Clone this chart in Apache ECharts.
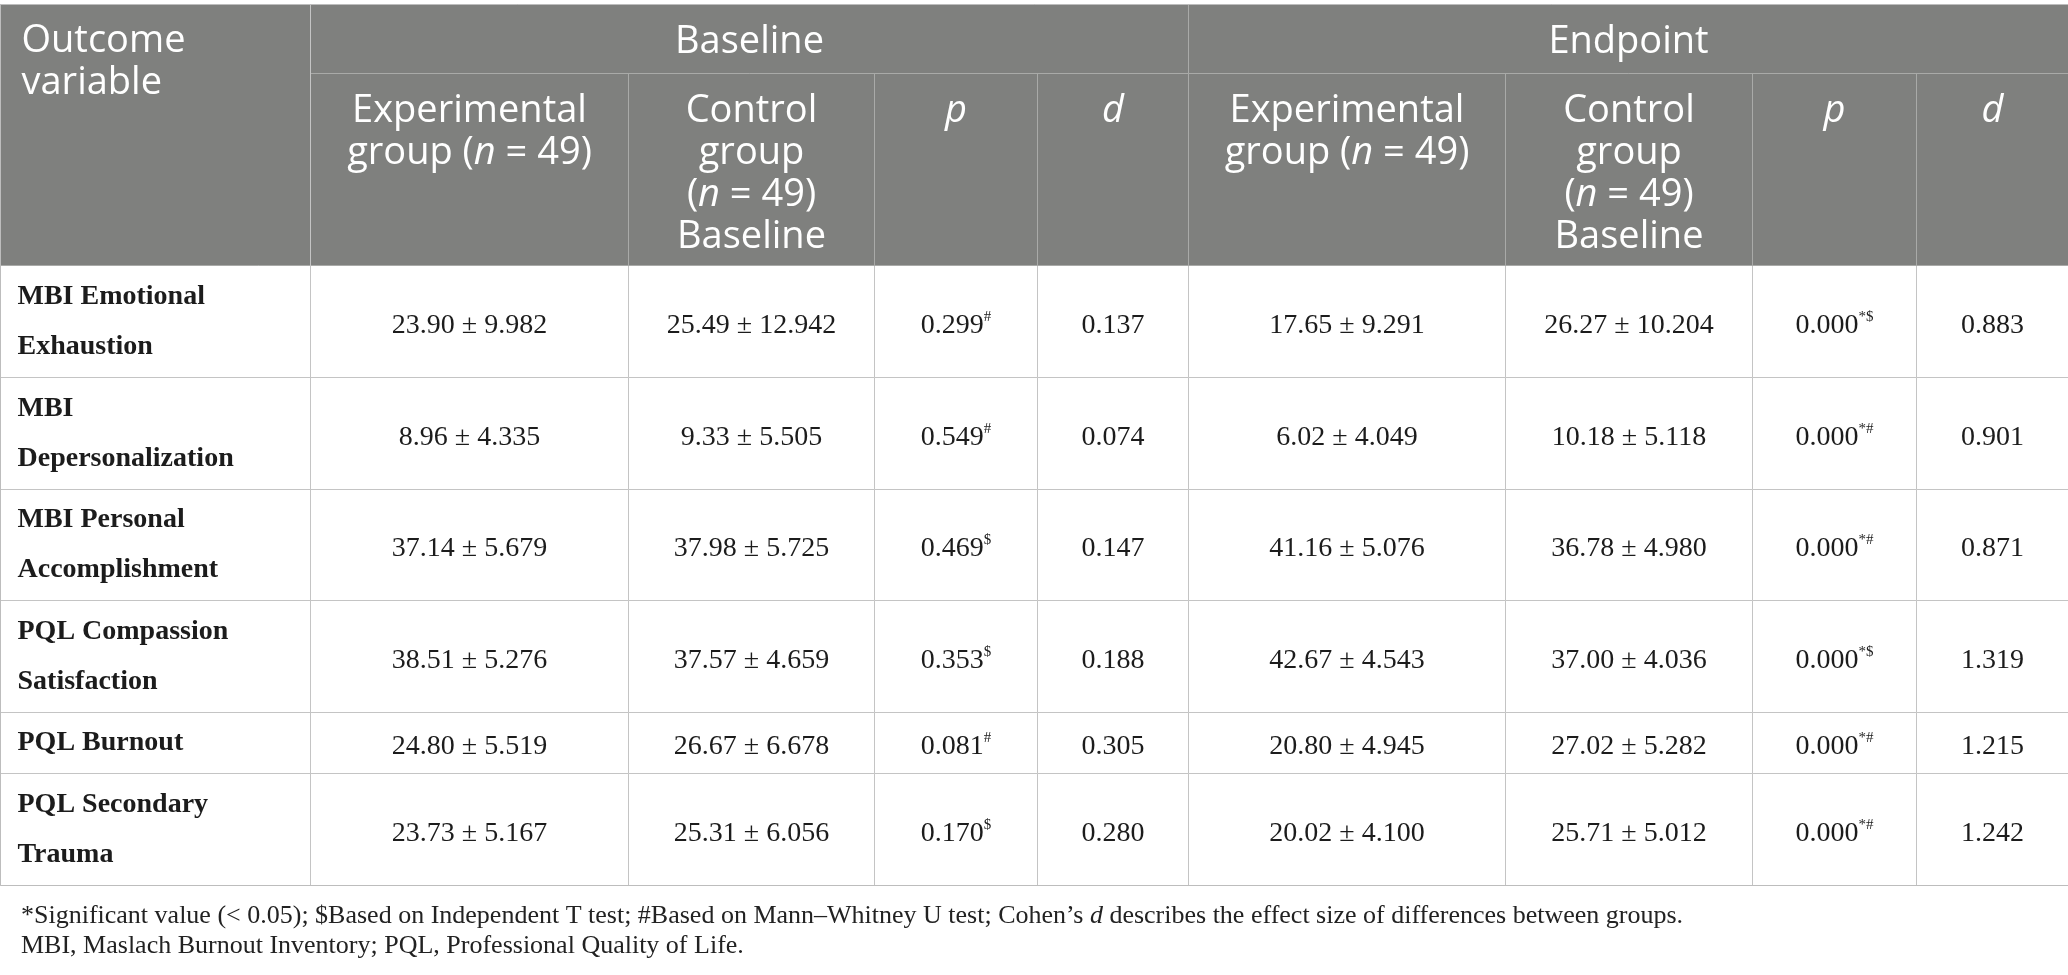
<!DOCTYPE html>
<html>
<head>
<meta charset="utf-8">
<script src="https://cdn.jsdelivr.net/npm/echarts@6/dist/echarts.min.js"></script>
<style>
html, body { margin: 0; padding: 0; background: #fff; }
#main { width: 2068px; height: 975px; }
</style>
</head>
<body>
<div id="main"></div>
<script>
// outcome rows
var outcomes = ['MBI Emotional\nExhaustion', 'MBI\nDepersonalization', 'MBI Personal\nAccomplishment',
  'PQL Compassion\nSatisfaction', 'PQL Burnout', 'PQL Secondary\nTrauma'];
var phases = ['Baseline', 'Endpoint'];
var subHeads = ['Experimental\ngroup ({it|n} = 49)', 'Control\ngroup\n({it|n} = 49)\nBaseline', '{it|p}', '{it|d}'];

// baseline
var baseExpMean = [23.90, 8.96, 37.14, 38.51, 24.80, 23.73];
var baseExpSd = [9.982, 4.335, 5.679, 5.276, 5.519, 5.167];
var baseCtlMean = [25.49, 9.33, 37.98, 37.57, 26.67, 25.31];
var baseCtlSd = [12.942, 5.505, 5.725, 4.659, 6.678, 6.056];
var baseP = ['0.299', '0.549', '0.469', '0.353', '0.081', '0.170'];
var baseMark = ['#', '#', '$', '$', '#', '$'];
var baseD = ['0.137', '0.074', '0.147', '0.188', '0.305', '0.280'];

// endpoint
var endExpMean = [17.65, 6.02, 41.16, 42.67, 20.80, 20.02];
var endExpSd = [9.291, 4.049, 5.076, 4.543, 4.945, 4.100];
var endCtlMean = [26.27, 10.18, 36.78, 37.00, 27.02, 25.71];
var endCtlSd = [10.204, 5.118, 4.980, 4.036, 5.282, 5.012];
var endP = ['0.000', '0.000', '0.000', '0.000', '0.000', '0.000'];
var endMark = ['*$', '*#', '*#', '*$', '*#', '*#'];
var endD = ['0.883', '0.901', '0.871', '1.319', '1.215', '1.242'];

var colW = [318, 246, 163, 151, 317, 247, 164, 152];
var rowH = [112, 112, 111, 112, 61, 112];
var bodyLine = 32;

function ms(m, s) { return m.toFixed(2) + ' ± ' + s.toFixed(3); }

// body cells; the text sits at the top of the cell, so pad it down to the middle
var cells = [];
for (var i = 0; i < outcomes.length; i++) {
  var vals = [
    ms(baseExpMean[i], baseExpSd[i]), ms(baseCtlMean[i], baseCtlSd[i]),
    baseP[i] + '{sup|' + baseMark[i] + '}', baseD[i],
    ms(endExpMean[i], endExpSd[i]), ms(endCtlMean[i], endCtlSd[i]),
    endP[i] + '{sup|' + endMark[i] + '}', endD[i]
  ];
  for (var j = 0; j < vals.length; j++) {
    cells.push({ coord: [j, i], value: vals[j], label: { padding: [(rowH[i] - bodyLine) / 2 + 4, 0, 0, 0] } });
  }
}

// leaf names must be unique, so the endpoint copies get a zero-width mark
var xData = phases.map(function (ph, k) {
  return {
    value: ph,
    children: subHeads.map(function (h, n) {
      return { value: h + (k ? '\u200b' : ''), size: colW[k * 4 + n] };
    })
  };
});

var headFont = '"Open Sans", sans-serif';
var bodyFont = '"Liberation Serif", serif';
var headSize = 38;
var ink = '#1c1c1c';

var chart = echarts.init(document.getElementById('main'));
var option = {
  backgroundColor: '#fff',
  title: {
    text: '*Significant value (< 0.05); $Based on Independent T test; #Based on Mann–Whitney U test; Cohen’s {it|d} describes the effect size of differences between groups.\nMBI, Maslach Burnout Inventory; PQL, Professional Quality of Life.',
    left: 16,
    top: 896,
    textStyle: {
      fontFamily: bodyFont, fontSize: 26, fontWeight: 'normal', color: '#222', lineHeight: 30,
      rich: { it: { fontFamily: bodyFont, fontSize: 26, fontStyle: 'italic', color: '#222', lineHeight: 30 } }
    }
  },
  matrix: {
    left: 0,
    top: 4,
    width: 2068,
    height: 881,
    backgroundStyle: { color: '#fff', borderColor: '#bdbdbd', borderWidth: 1 },
    x: {
      data: xData,
      levels: [{ levelSize: 69 }, { levelSize: 192 }],
      itemStyle: { color: '#7f807e', borderColor: '#a9aaa8', borderWidth: 1 },
      dividerLineStyle: { color: '#a9aaa8', width: 1 },
      label: {
        position: 'insideTop', distance: 15, overflow: 'none',
        color: '#fff', fontFamily: headFont, fontSize: headSize, lineHeight: 42,
        rich: { it: { fontFamily: headFont, fontStyle: 'italic', fontSize: headSize, color: '#fff', lineHeight: 42 } }
      }
    },
    y: {
      data: outcomes.map(function (o, i) { return { value: o, size: rowH[i] }; }),
      levelSize: 310,
      itemStyle: { color: '#fff', borderColor: '#c4c4c4', borderWidth: 1 },
      dividerLineStyle: { color: '#c4c4c4', width: 1 },
      label: {
        position: 'insideLeft', distance: 17, padding: [8, 0, 0, 0], overflow: 'none',
        color: ink, fontFamily: bodyFont, fontSize: 28, fontWeight: 'bold', lineHeight: 50
      }
    },
    corner: {
      data: [{ coord: [-1, [-2, -1]], mergeCells: true, value: 'Outcome\nvariable' }],
      itemStyle: { color: '#7f807e', borderColor: '#a9aaa8', borderWidth: 1 },
      label: {
        position: 'insideTopLeft', distance: 16, padding: [0, 0, 0, 5], overflow: 'none',
        color: '#fff', fontFamily: headFont, fontSize: headSize, lineHeight: 42
      }
    },
    body: {
      data: cells,
      itemStyle: { color: '#fff', borderColor: '#c4c4c4', borderWidth: 1 },
      label: {
        position: 'inside', overflow: 'none',
        color: ink, fontFamily: bodyFont, fontSize: 28, lineHeight: bodyLine,
        rich: {
          sup: { fontFamily: bodyFont, fontSize: 15, color: ink, verticalAlign: 'top', lineHeight: bodyLine }
        }
      }
    }
  }
};
chart.setOption(option);
</script>
</body>
</html>
